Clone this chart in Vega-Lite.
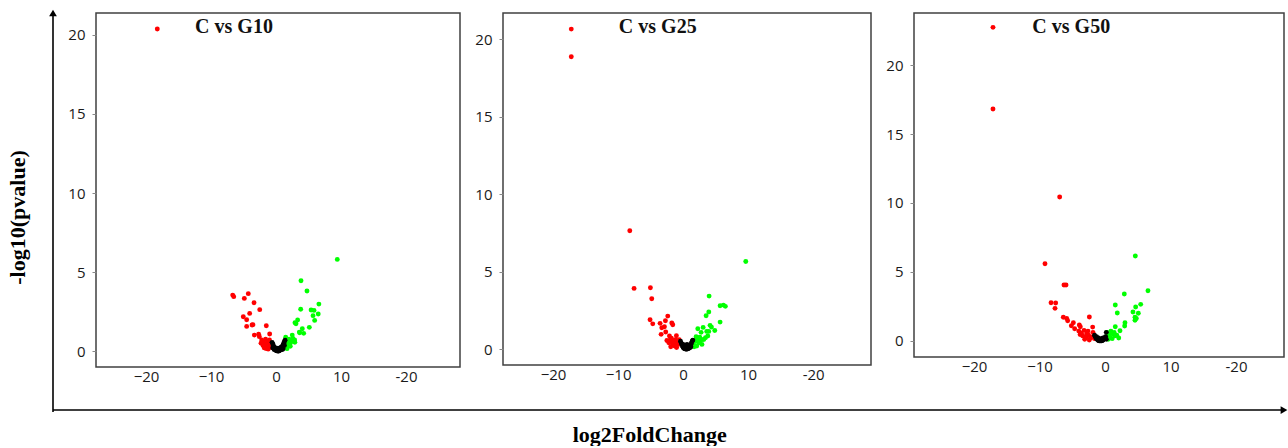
{
  "$schema": "https://vega.github.io/schema/vega-lite/v6.json",
  "background": "white",
  "padding": {"left": 6, "top": 9, "right": 0, "bottom": 0},
  "bounds": "flush",
  "spacing": 43,
  "title": {"text": "log2FoldChange", "orient": "bottom", "anchor": "middle", "font": "Liberation Serif", "fontSize": 22, "fontWeight": "bold", "color": "#000000", "offset": 11, "dx": 3},
  "config": {
    "view": {"stroke": "#404040", "strokeWidth": 1.5},
    "axis": {"labelFont": "Open Sans", "labelFontSize": 15, "labelColor": "#1a1a1a", "tickColor": "#888888", "grid": false, "domain": false, "title": null}
  },
  "datasets": {
    "g10": [
      {"lfc": -18.26, "p": 20.38, "sig": "down"},
      {"lfc": -6.66, "p": 3.54, "sig": "down"},
      {"lfc": -6.5, "p": 3.44, "sig": "down"},
      {"lfc": -4.26, "p": 3.63, "sig": "down"},
      {"lfc": -4.87, "p": 3.33, "sig": "down"},
      {"lfc": -3.38, "p": 3.06, "sig": "down"},
      {"lfc": -2.5, "p": 2.62, "sig": "down"},
      {"lfc": -4.05, "p": 2.38, "sig": "down"},
      {"lfc": -5.03, "p": 2.17, "sig": "down"},
      {"lfc": -4.51, "p": 1.98, "sig": "down"},
      {"lfc": -3.69, "p": 1.65, "sig": "down"},
      {"lfc": -3.55, "p": 1.66, "sig": "down"},
      {"lfc": -4.51, "p": 1.56, "sig": "down"},
      {"lfc": -1.49, "p": 1.6, "sig": "down"},
      {"lfc": -3.33, "p": 1.01, "sig": "down"},
      {"lfc": -2.67, "p": 1.06, "sig": "down"},
      {"lfc": -2.56, "p": 0.91, "sig": "down"},
      {"lfc": -0.97, "p": 1.08, "sig": "down"},
      {"lfc": -2.2, "p": 0.7, "sig": "down"},
      {"lfc": -1.9, "p": 0.55, "sig": "down"},
      {"lfc": -1.6, "p": 0.75, "sig": "down"},
      {"lfc": -1.3, "p": 0.6, "sig": "down"},
      {"lfc": -2.0, "p": 0.35, "sig": "down"},
      {"lfc": -1.7, "p": 0.4, "sig": "down"},
      {"lfc": -1.4, "p": 0.3, "sig": "down"},
      {"lfc": -1.1, "p": 0.45, "sig": "down"},
      {"lfc": -0.9, "p": 0.25, "sig": "down"},
      {"lfc": -1.8, "p": 0.2, "sig": "down"},
      {"lfc": -1.5, "p": 0.15, "sig": "down"},
      {"lfc": -1.2, "p": 0.12, "sig": "down"},
      {"lfc": -0.8, "p": 0.5, "sig": "down"},
      {"lfc": -2.3, "p": 0.5, "sig": "down"},
      {"lfc": -1.0, "p": 0.7, "sig": "down"},
      {"lfc": 9.43, "p": 5.8, "sig": "up"},
      {"lfc": 3.85, "p": 4.45, "sig": "up"},
      {"lfc": 4.77, "p": 3.8, "sig": "up"},
      {"lfc": 6.6, "p": 2.97, "sig": "up"},
      {"lfc": 3.8, "p": 2.64, "sig": "up"},
      {"lfc": 5.4, "p": 2.6, "sig": "up"},
      {"lfc": 5.85, "p": 2.57, "sig": "up"},
      {"lfc": 6.5, "p": 2.34, "sig": "up"},
      {"lfc": 5.7, "p": 2.24, "sig": "up"},
      {"lfc": 3.33, "p": 1.96, "sig": "up"},
      {"lfc": 5.95, "p": 1.94, "sig": "up"},
      {"lfc": 2.92, "p": 1.79, "sig": "up"},
      {"lfc": 3.08, "p": 1.73, "sig": "up"},
      {"lfc": 5.13, "p": 1.5, "sig": "up"},
      {"lfc": 4.05, "p": 1.41, "sig": "up"},
      {"lfc": 3.64, "p": 1.16, "sig": "up"},
      {"lfc": 4.26, "p": 1.12, "sig": "up"},
      {"lfc": 3.6, "p": 1.2, "sig": "up"},
      {"lfc": 2.5, "p": 1.01, "sig": "up"},
      {"lfc": 1.49, "p": 0.87, "sig": "up"},
      {"lfc": 2.87, "p": 0.7, "sig": "up"},
      {"lfc": 2.36, "p": 0.59, "sig": "up"},
      {"lfc": 2.15, "p": 0.46, "sig": "up"},
      {"lfc": 1.69, "p": 0.38, "sig": "up"},
      {"lfc": 1.59, "p": 0.23, "sig": "up"},
      {"lfc": 1.8, "p": 0.6, "sig": "up"},
      {"lfc": 2.0, "p": 0.75, "sig": "up"},
      {"lfc": 2.6, "p": 0.8, "sig": "up"},
      {"lfc": 1.4, "p": 0.5, "sig": "up"},
      {"lfc": 1.7, "p": 0.15, "sig": "up"},
      {"lfc": 2.2, "p": 0.3, "sig": "up"},
      {"lfc": 2.9, "p": 0.55, "sig": "up"},
      {"lfc": 1.3, "p": 0.3, "sig": "up"},
      {"lfc": -0.6, "p": 0.55, "sig": "ns"},
      {"lfc": -0.5, "p": 0.45, "sig": "ns"},
      {"lfc": -0.4, "p": 0.35, "sig": "ns"},
      {"lfc": -0.3, "p": 0.25, "sig": "ns"},
      {"lfc": -0.2, "p": 0.15, "sig": "ns"},
      {"lfc": -0.1, "p": 0.08, "sig": "ns"},
      {"lfc": 0.0, "p": 0.03, "sig": "ns"},
      {"lfc": 0.1, "p": 0.02, "sig": "ns"},
      {"lfc": 0.2, "p": 0.01, "sig": "ns"},
      {"lfc": 0.3, "p": 0.0, "sig": "ns"},
      {"lfc": 0.4, "p": 0.0, "sig": "ns"},
      {"lfc": 0.5, "p": 0.02, "sig": "ns"},
      {"lfc": 0.6, "p": 0.05, "sig": "ns"},
      {"lfc": 0.7, "p": 0.08, "sig": "ns"},
      {"lfc": 0.8, "p": 0.12, "sig": "ns"},
      {"lfc": 0.9, "p": 0.2, "sig": "ns"},
      {"lfc": 1.0, "p": 0.3, "sig": "ns"},
      {"lfc": 1.1, "p": 0.4, "sig": "ns"},
      {"lfc": 1.2, "p": 0.5, "sig": "ns"},
      {"lfc": 1.3, "p": 0.6, "sig": "ns"},
      {"lfc": 1.4, "p": 0.68, "sig": "ns"},
      {"lfc": 0.0, "p": 0.2, "sig": "ns"},
      {"lfc": 0.2, "p": 0.15, "sig": "ns"},
      {"lfc": 0.5, "p": 0.15, "sig": "ns"},
      {"lfc": 0.8, "p": 0.25, "sig": "ns"},
      {"lfc": 1.1, "p": 0.15, "sig": "ns"},
      {"lfc": -0.3, "p": 0.1, "sig": "ns"},
      {"lfc": 0.3, "p": 0.1, "sig": "ns"},
      {"lfc": 0.6, "p": 0.2, "sig": "ns"},
      {"lfc": 1.0, "p": 0.1, "sig": "ns"},
      {"lfc": -0.5, "p": 0.2, "sig": "ns"},
      {"lfc": 1.3, "p": 0.35, "sig": "ns"}
    ],
    "g25": [
      {"lfc": -17.2, "p": 20.67, "sig": "down"},
      {"lfc": -17.2, "p": 18.88, "sig": "down"},
      {"lfc": -8.2, "p": 7.64, "sig": "down"},
      {"lfc": -7.54, "p": 3.92, "sig": "down"},
      {"lfc": -5.03, "p": 3.96, "sig": "down"},
      {"lfc": -4.82, "p": 3.25, "sig": "down"},
      {"lfc": -5.08, "p": 1.89, "sig": "down"},
      {"lfc": -4.67, "p": 1.63, "sig": "down"},
      {"lfc": -2.36, "p": 2.13, "sig": "down"},
      {"lfc": -2.72, "p": 1.83, "sig": "down"},
      {"lfc": -3.54, "p": 1.66, "sig": "down"},
      {"lfc": -3.28, "p": 1.38, "sig": "down"},
      {"lfc": -2.87, "p": 1.44, "sig": "down"},
      {"lfc": -1.74, "p": 1.68, "sig": "down"},
      {"lfc": -1.59, "p": 1.57, "sig": "down"},
      {"lfc": -3.38, "p": 0.95, "sig": "down"},
      {"lfc": -2.67, "p": 1.1, "sig": "down"},
      {"lfc": -2.1, "p": 0.84, "sig": "down"},
      {"lfc": -1.95, "p": 0.62, "sig": "down"},
      {"lfc": -1.03, "p": 0.86, "sig": "down"},
      {"lfc": -2.5, "p": 0.55, "sig": "down"},
      {"lfc": -2.2, "p": 0.4, "sig": "down"},
      {"lfc": -1.8, "p": 0.7, "sig": "down"},
      {"lfc": -1.5, "p": 0.5, "sig": "down"},
      {"lfc": -1.2, "p": 0.6, "sig": "down"},
      {"lfc": -1.6, "p": 0.3, "sig": "down"},
      {"lfc": -1.3, "p": 0.2, "sig": "down"},
      {"lfc": -0.9, "p": 0.45, "sig": "down"},
      {"lfc": -0.7, "p": 0.3, "sig": "down"},
      {"lfc": -1.9, "p": 0.15, "sig": "down"},
      {"lfc": -1.0, "p": 0.1, "sig": "down"},
      {"lfc": -0.6, "p": 0.6, "sig": "down"},
      {"lfc": -2.0, "p": 0.5, "sig": "down"},
      {"lfc": -1.1, "p": 0.3, "sig": "down"},
      {"lfc": 9.64, "p": 5.66, "sig": "up"},
      {"lfc": 4.0, "p": 3.42, "sig": "up"},
      {"lfc": 5.69, "p": 2.8, "sig": "up"},
      {"lfc": 6.2, "p": 2.84, "sig": "up"},
      {"lfc": 6.5, "p": 2.76, "sig": "up"},
      {"lfc": 3.95, "p": 2.39, "sig": "up"},
      {"lfc": 3.54, "p": 2.15, "sig": "up"},
      {"lfc": 5.69, "p": 1.74, "sig": "up"},
      {"lfc": 4.15, "p": 1.53, "sig": "up"},
      {"lfc": 4.36, "p": 1.42, "sig": "up"},
      {"lfc": 4.87, "p": 1.2, "sig": "up"},
      {"lfc": 2.26, "p": 1.31, "sig": "up"},
      {"lfc": 3.08, "p": 1.4, "sig": "up"},
      {"lfc": 3.64, "p": 1.14, "sig": "up"},
      {"lfc": 3.95, "p": 1.14, "sig": "up"},
      {"lfc": 2.77, "p": 1.08, "sig": "up"},
      {"lfc": 2.56, "p": 0.76, "sig": "up"},
      {"lfc": 3.44, "p": 0.73, "sig": "up"},
      {"lfc": 3.8, "p": 0.84, "sig": "up"},
      {"lfc": 3.18, "p": 0.62, "sig": "up"},
      {"lfc": 1.6, "p": 0.3, "sig": "up"},
      {"lfc": 1.9, "p": 0.5, "sig": "up"},
      {"lfc": 2.2, "p": 0.65, "sig": "up"},
      {"lfc": 2.4, "p": 0.4, "sig": "up"},
      {"lfc": 2.0, "p": 0.8, "sig": "up"},
      {"lfc": 1.7, "p": 0.15, "sig": "up"},
      {"lfc": 2.6, "p": 0.5, "sig": "up"},
      {"lfc": 2.9, "p": 0.3, "sig": "up"},
      {"lfc": 2.1, "p": 0.2, "sig": "up"},
      {"lfc": 1.5, "p": 0.55, "sig": "up"},
      {"lfc": 2.8, "p": 0.6, "sig": "up"},
      {"lfc": -0.4, "p": 0.5, "sig": "ns"},
      {"lfc": -0.3, "p": 0.4, "sig": "ns"},
      {"lfc": -0.2, "p": 0.3, "sig": "ns"},
      {"lfc": -0.1, "p": 0.2, "sig": "ns"},
      {"lfc": 0.0, "p": 0.12, "sig": "ns"},
      {"lfc": 0.1, "p": 0.06, "sig": "ns"},
      {"lfc": 0.2, "p": 0.03, "sig": "ns"},
      {"lfc": 0.3, "p": 0.01, "sig": "ns"},
      {"lfc": 0.4, "p": 0.0, "sig": "ns"},
      {"lfc": 0.5, "p": 0.0, "sig": "ns"},
      {"lfc": 0.6, "p": 0.0, "sig": "ns"},
      {"lfc": 0.7, "p": 0.01, "sig": "ns"},
      {"lfc": 0.8, "p": 0.03, "sig": "ns"},
      {"lfc": 0.9, "p": 0.06, "sig": "ns"},
      {"lfc": 1.0, "p": 0.12, "sig": "ns"},
      {"lfc": 1.1, "p": 0.2, "sig": "ns"},
      {"lfc": 1.2, "p": 0.3, "sig": "ns"},
      {"lfc": 1.3, "p": 0.4, "sig": "ns"},
      {"lfc": 1.4, "p": 0.5, "sig": "ns"},
      {"lfc": 1.5, "p": 0.58, "sig": "ns"},
      {"lfc": 0.2, "p": 0.2, "sig": "ns"},
      {"lfc": 0.5, "p": 0.15, "sig": "ns"},
      {"lfc": 0.8, "p": 0.2, "sig": "ns"},
      {"lfc": 1.1, "p": 0.1, "sig": "ns"},
      {"lfc": 0.0, "p": 0.3, "sig": "ns"},
      {"lfc": 0.6, "p": 0.3, "sig": "ns"},
      {"lfc": 1.2, "p": 0.15, "sig": "ns"},
      {"lfc": 0.3, "p": 0.12, "sig": "ns"}
    ],
    "g50": [
      {"lfc": -17.1, "p": 22.74, "sig": "down"},
      {"lfc": -17.1, "p": 16.81, "sig": "down"},
      {"lfc": -6.92, "p": 10.43, "sig": "down"},
      {"lfc": -9.16, "p": 5.59, "sig": "down"},
      {"lfc": -6.26, "p": 4.04, "sig": "down"},
      {"lfc": -5.95, "p": 4.04, "sig": "down"},
      {"lfc": -8.24, "p": 2.76, "sig": "down"},
      {"lfc": -7.53, "p": 2.74, "sig": "down"},
      {"lfc": -7.63, "p": 2.35, "sig": "down"},
      {"lfc": -6.36, "p": 1.7, "sig": "down"},
      {"lfc": -5.85, "p": 1.62, "sig": "down"},
      {"lfc": -5.7, "p": 1.45, "sig": "down"},
      {"lfc": -2.39, "p": 1.72, "sig": "down"},
      {"lfc": -4.83, "p": 1.31, "sig": "down"},
      {"lfc": -5.14, "p": 1.09, "sig": "down"},
      {"lfc": -4.63, "p": 0.87, "sig": "down"},
      {"lfc": -3.92, "p": 1.14, "sig": "down"},
      {"lfc": -3.77, "p": 1.02, "sig": "down"},
      {"lfc": -1.88, "p": 0.99, "sig": "down"},
      {"lfc": -1.83, "p": 0.61, "sig": "down"},
      {"lfc": -4.0, "p": 0.7, "sig": "down"},
      {"lfc": -3.6, "p": 0.55, "sig": "down"},
      {"lfc": -3.2, "p": 0.75, "sig": "down"},
      {"lfc": -2.8, "p": 0.5, "sig": "down"},
      {"lfc": -3.4, "p": 0.35, "sig": "down"},
      {"lfc": -2.9, "p": 0.25, "sig": "down"},
      {"lfc": -2.5, "p": 0.4, "sig": "down"},
      {"lfc": -2.2, "p": 0.2, "sig": "down"},
      {"lfc": -2.6, "p": 0.7, "sig": "down"},
      {"lfc": -3.8, "p": 0.45, "sig": "down"},
      {"lfc": -1.9, "p": 0.3, "sig": "down"},
      {"lfc": -2.4, "p": 0.05, "sig": "down"},
      {"lfc": -3.1, "p": 0.1, "sig": "down"},
      {"lfc": -1.6, "p": 0.15, "sig": "down"},
      {"lfc": 4.63, "p": 6.15, "sig": "up"},
      {"lfc": 6.56, "p": 3.63, "sig": "up"},
      {"lfc": 2.95, "p": 3.39, "sig": "up"},
      {"lfc": 5.45, "p": 2.64, "sig": "up"},
      {"lfc": 1.57, "p": 2.59, "sig": "up"},
      {"lfc": 4.68, "p": 2.45, "sig": "up"},
      {"lfc": 1.88, "p": 2.01, "sig": "up"},
      {"lfc": 4.27, "p": 2.08, "sig": "up"},
      {"lfc": 5.09, "p": 1.99, "sig": "up"},
      {"lfc": 4.58, "p": 1.7, "sig": "up"},
      {"lfc": 4.58, "p": 1.48, "sig": "up"},
      {"lfc": 4.78, "p": 1.62, "sig": "up"},
      {"lfc": 3.05, "p": 1.31, "sig": "up"},
      {"lfc": 3.0, "p": 1.07, "sig": "up"},
      {"lfc": 1.57, "p": 1.02, "sig": "up"},
      {"lfc": 2.29, "p": 0.73, "sig": "up"},
      {"lfc": 0.3, "p": 0.6, "sig": "up"},
      {"lfc": 0.6, "p": 0.45, "sig": "up"},
      {"lfc": 0.9, "p": 0.7, "sig": "up"},
      {"lfc": 1.2, "p": 0.5, "sig": "up"},
      {"lfc": 1.5, "p": 0.35, "sig": "up"},
      {"lfc": 0.8, "p": 0.25, "sig": "up"},
      {"lfc": 1.1, "p": 0.15, "sig": "up"},
      {"lfc": 1.8, "p": 0.4, "sig": "up"},
      {"lfc": 2.1, "p": 0.2, "sig": "up"},
      {"lfc": 0.5, "p": 0.1, "sig": "up"},
      {"lfc": 1.4, "p": 0.6, "sig": "up"},
      {"lfc": 0.2, "p": 0.3, "sig": "up"},
      {"lfc": -1.6, "p": 0.4, "sig": "ns"},
      {"lfc": -1.5, "p": 0.3, "sig": "ns"},
      {"lfc": -1.4, "p": 0.22, "sig": "ns"},
      {"lfc": -1.3, "p": 0.15, "sig": "ns"},
      {"lfc": -1.2, "p": 0.1, "sig": "ns"},
      {"lfc": -1.1, "p": 0.05, "sig": "ns"},
      {"lfc": -1.0, "p": 0.02, "sig": "ns"},
      {"lfc": -0.9, "p": 0.0, "sig": "ns"},
      {"lfc": -0.8, "p": 0.0, "sig": "ns"},
      {"lfc": -0.7, "p": 0.0, "sig": "ns"},
      {"lfc": -0.6, "p": 0.0, "sig": "ns"},
      {"lfc": -0.5, "p": 0.0, "sig": "ns"},
      {"lfc": -0.4, "p": 0.02, "sig": "ns"},
      {"lfc": -0.3, "p": 0.05, "sig": "ns"},
      {"lfc": -0.2, "p": 0.1, "sig": "ns"},
      {"lfc": -0.1, "p": 0.16, "sig": "ns"},
      {"lfc": 0.0, "p": 0.22, "sig": "ns"},
      {"lfc": 0.1, "p": 0.3, "sig": "ns"},
      {"lfc": 0.2, "p": 0.61, "sig": "ns"},
      {"lfc": -1.0, "p": 0.2, "sig": "ns"},
      {"lfc": -0.6, "p": 0.15, "sig": "ns"},
      {"lfc": -0.3, "p": 0.2, "sig": "ns"},
      {"lfc": 0.2, "p": 0.1, "sig": "ns"},
      {"lfc": -1.3, "p": 0.3, "sig": "ns"}
    ]
  },
  "hconcat": [
    {
      "width": 10,
      "height": 354,
      "view": {"stroke": null},
      "data": {"values": [{}]},
      "layer": [
        {
          "mark": {"type": "rule", "color": "#000000", "strokeWidth": 1.6},
          "encoding": {
            "x": {"datum": 1, "type": "quantitative", "scale": {"domain": [0, 1], "nice": false, "zero": false}, "axis": null},
            "y": {"datum": -0.127, "type": "quantitative", "scale": {"domain": [0, 1], "nice": false, "zero": false},
                  "axis": {"title": "-log10(pvalue)", "labels": false, "ticks": false, "domain": false, "titleFont": "Liberation Serif", "titleFontSize": 22, "titleFontWeight": "bold", "titleColor": "#000000", "titlePadding": 14, "titleY": 204}},
            "y2": {"datum": 1.0}
          }
        },
        {
          "mark": {"type": "point", "shape": "triangle-up", "filled": true, "size": 60, "color": "#000000", "opacity": 1},
          "encoding": {"x": {"datum": 1}, "y": {"datum": 1.0}}
        },
        {
          "mark": {"type": "rule", "color": "#000000", "strokeWidth": 1.6},
          "encoding": {"x": {"datum": 1}, "x2": {"datum": 124.0}, "y": {"datum": -0.1215}}
        },
        {
          "mark": {"type": "point", "shape": "triangle-right", "filled": true, "size": 60, "color": "#000000", "opacity": 1},
          "encoding": {"x": {"datum": 124.1}, "y": {"datum": -0.1215}}
        }
      ]
    },
    {
      "width": 364,
      "height": 354,
      "layer": [
        {
          "data": {"name": "g10"},
          "mark": {"type": "circle", "size": 24, "opacity": 1},
          "encoding": {
            "x": {"field": "lfc", "type": "quantitative", "scale": {"domain": [-27.69, 28.31], "nice": false, "zero": false},
                  "axis": {"values": [-20, -10, 0, 10, 20], "ticks": false, "labelPadding": 2, "labelExpr": "datum.value === 20 ? '-20' : datum.label"}},
            "y": {"field": "p", "type": "quantitative", "scale": {"domain": [-1.01, 21.39], "nice": false, "zero": false},
                  "axis": {"values": [0, 5, 10, 15, 20], "tickSize": 4, "labelPadding": 7}},
            "color": {"field": "sig", "type": "nominal", "scale": {"domain": ["down", "ns", "up"], "range": ["#ff0000", "#000000", "#00ff00"]}, "legend": null}
          }
        },
        {
          "data": {"values": [{"label": "C vs G10"}]},
          "mark": {"type": "text", "font": "Liberation Serif", "fontSize": 20, "fontWeight": "bold", "align": "center", "baseline": "middle", "color": "#111111"},
          "encoding": {"x": {"datum": -6.46}, "y": {"datum": 20.5}, "text": {"field": "label"}}
        }
      ]
    },
    {
      "width": 368,
      "height": 352,
      "layer": [
        {
          "data": {"name": "g25"},
          "mark": {"type": "circle", "size": 24, "opacity": 1},
          "encoding": {
            "x": {"field": "lfc", "type": "quantitative", "scale": {"domain": [-27.7, 28.9], "nice": false, "zero": false},
                  "axis": {"values": [-20, -10, 0, 10, 20], "ticks": false, "labelPadding": 2, "labelExpr": "datum.value === 20 ? '-20' : datum.label"}},
            "y": {"field": "p", "type": "quantitative", "scale": {"domain": [-1.03, 21.71], "nice": false, "zero": false},
                  "axis": {"values": [0, 5, 10, 15, 20], "tickSize": 4, "labelPadding": 7}},
            "color": {"field": "sig", "type": "nominal", "scale": {"domain": ["down", "ns", "up"], "range": ["#ff0000", "#000000", "#00ff00"]}, "legend": null}
          }
        },
        {
          "data": {"values": [{"label": "C vs G25"}]},
          "mark": {"type": "text", "font": "Liberation Serif", "fontSize": 20, "fontWeight": "bold", "align": "center", "baseline": "middle", "color": "#111111"},
          "encoding": {"x": {"datum": -3.9}, "y": {"datum": 20.82}, "text": {"field": "label"}}
        }
      ]
    },
    {
      "width": 370,
      "height": 344,
      "layer": [
        {
          "data": {"name": "g50"},
          "mark": {"type": "circle", "size": 24, "opacity": 1},
          "encoding": {
            "x": {"field": "lfc", "type": "quantitative", "scale": {"domain": [-29.16, 27.33], "nice": false, "zero": false},
                  "axis": {"values": [-20, -10, 0, 10, 20], "ticks": false, "labelPadding": 2, "labelExpr": "datum.value === 20 ? '-20' : datum.label"}},
            "y": {"field": "p", "type": "quantitative", "scale": {"domain": [-1.18, 23.78], "nice": false, "zero": false},
                  "axis": {"values": [0, 5, 10, 15, 20], "tickSize": 4, "labelPadding": 7}},
            "color": {"field": "sig", "type": "nominal", "scale": {"domain": ["down", "ns", "up"], "range": ["#ff0000", "#000000", "#00ff00"]}, "legend": null}
          }
        },
        {
          "data": {"values": [{"label": "C vs G50"}]},
          "mark": {"type": "text", "font": "Liberation Serif", "fontSize": 20, "fontWeight": "bold", "align": "center", "baseline": "middle", "color": "#111111"},
          "encoding": {"x": {"datum": -5.15}, "y": {"datum": 22.79}, "text": {"field": "label"}}
        }
      ]
    }
  ]
}
